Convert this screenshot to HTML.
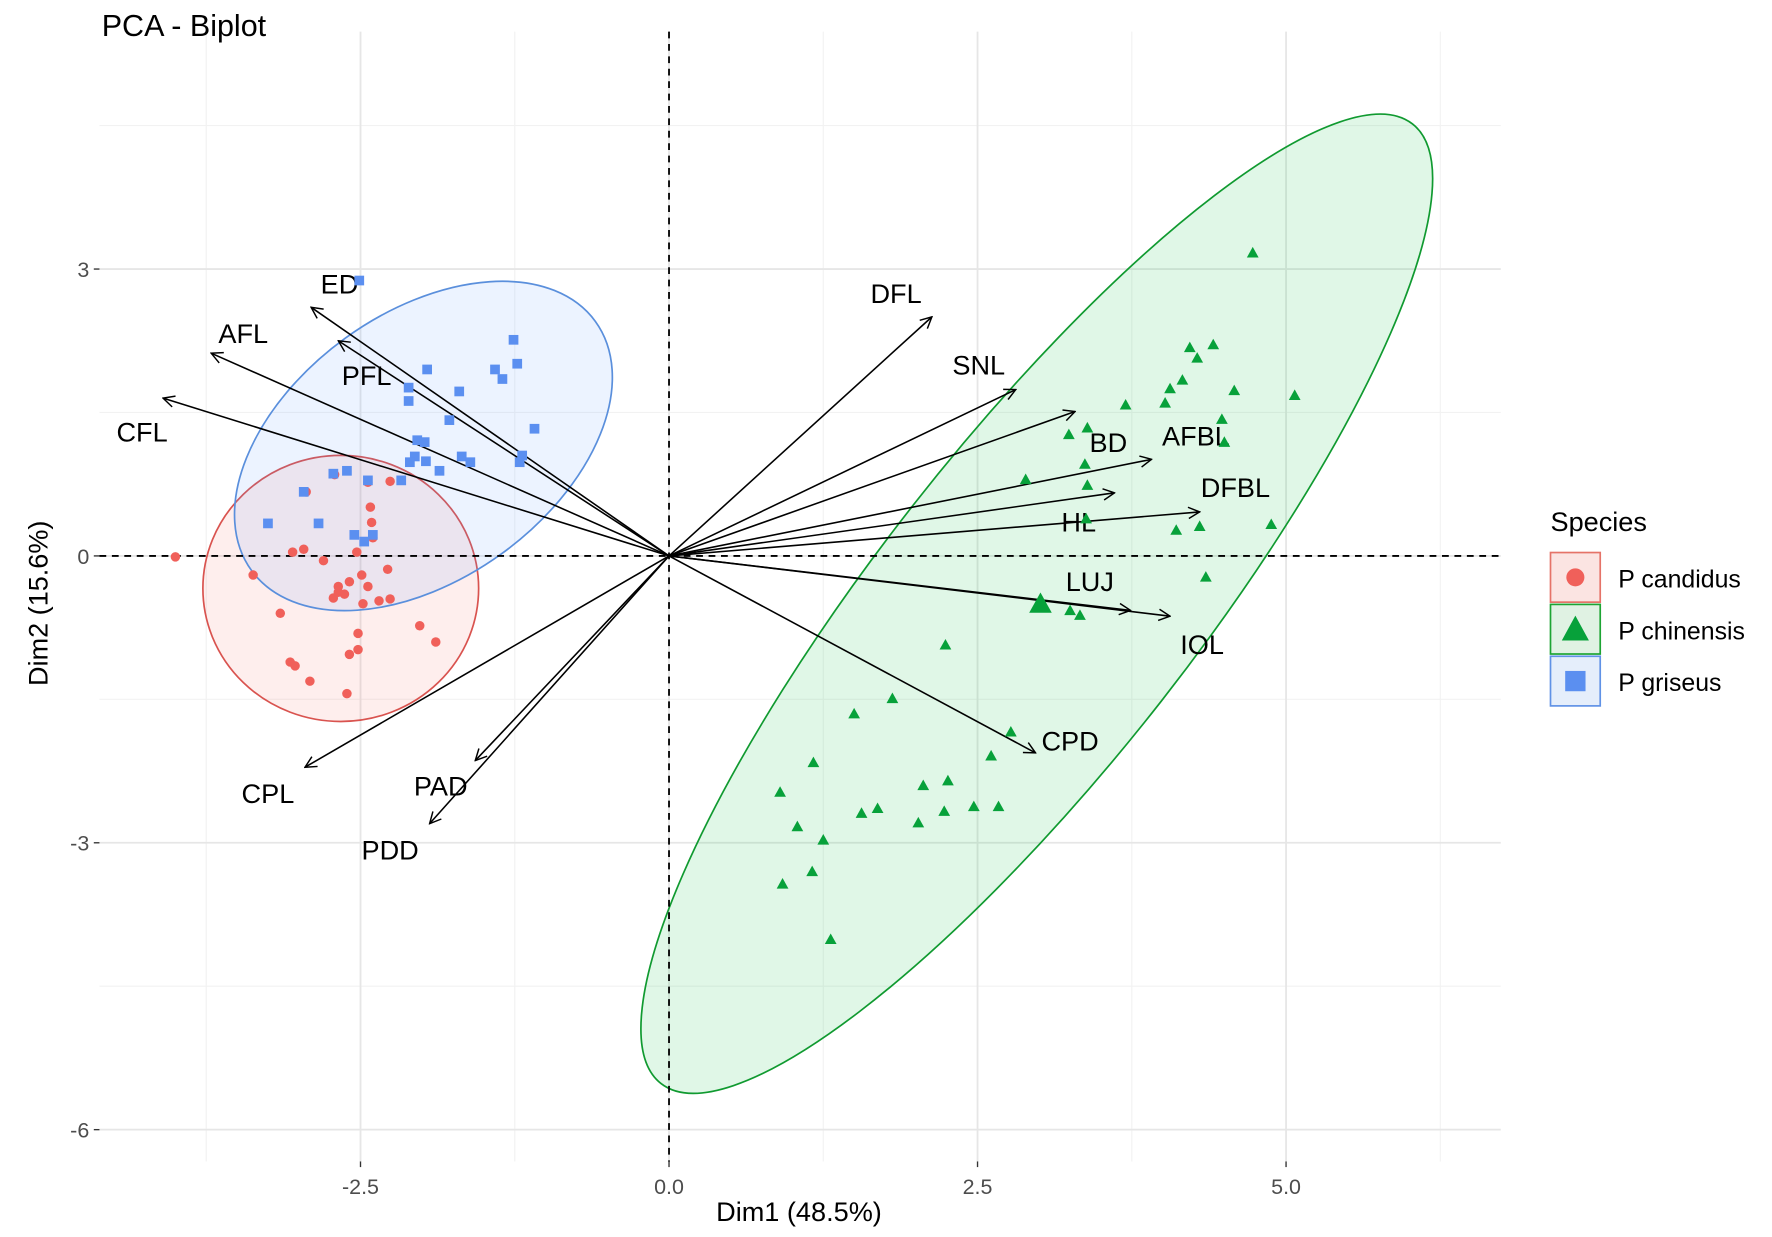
<!DOCTYPE html>
<html><head><meta charset="utf-8"><style>
html,body{margin:0;padding:0;background:#fff;}
svg{display:block;font-family:"Liberation Sans",sans-serif;}
</style></head><body>
<svg id="chart" width="1772" height="1237" viewBox="0 0 1568 1097" preserveAspectRatio="none" xmlns="http://www.w3.org/2000/svg">
<defs>
<marker id="ah" viewBox="0 0 12 12" refX="11" refY="6" markerWidth="12" markerHeight="12" markerUnits="userSpaceOnUse" orient="auto">
<path d="M1,1 L11,6 L1,11" fill="none" stroke="#000" stroke-width="1.3"/></marker>
</defs>
<g id="grid"></g>
<g id="ellipses"></g>
<g id="axes0"></g>
<g id="arrows"></g>
<g id="points"></g>
<g id="ticks"></g>
<text x="90" y="32" font-size="27">PCA - Biplot</text>
<text x="707" y="1083" font-size="24" text-anchor="middle">Dim1 (48.5%)</text>
<text transform="translate(42,535) rotate(-90)" font-size="24" text-anchor="middle">Dim2 (15.6%)</text>
<g>
<text x="1372" y="471" font-size="24">Species</text>
<g>
<rect x="1372" y="490" width="44" height="44" fill="#fbe4e2" stroke="#e57368" stroke-width="1.5"/>
<circle cx="1394" cy="512" r="8" fill="#f0605a"/>
<text x="1432" y="521" font-size="22">P candidus</text></g>
<g>
<rect x="1372" y="536" width="44" height="44" fill="#e0f2e3" stroke="#1da433" stroke-width="1.5"/>
<path d="M1394,546 L1406,568 L1382,568 Z" fill="#07a13a"/>
<text x="1432" y="567" font-size="22">P chinensis</text></g>
<g>
<rect x="1372" y="582" width="44" height="44" fill="#e5eefb" stroke="#6092e6" stroke-width="1.5"/>
<rect x="1385" y="595" width="18" height="18" fill="#5b8ff0"/>
<text x="1432" y="613" font-size="22">P griseus</text></g>
</g>
</svg>
<script>
const xTicks=[-2.5,0,2.5,5];
const yTicks=[-6,-3,0,3];
const xMinor=[-3.75,-1.25,1.25,3.75,6.25];
const yMinor=[-4.5,-1.5,1.5,4.5];
const candidusX=[-4.0,-3.37,-3.05,-2.96,-2.8,-2.94,-2.71,-2.44,-2.26,-2.42,-2.41,-2.4,-2.53,-2.28,-2.49,-2.68,-2.72,-2.63,-2.68,-2.59,-2.44,-2.35,-2.26,-3.15,-3.07,-3.03,-2.91,-2.61,-2.59,-2.52,-2.02,-1.89,-2.52,-2.48];
const candidusY=[-0.01,-0.2,0.04,0.07,-0.05,0.67,0.85,0.77,0.78,0.51,0.35,0.19,0.04,-0.14,-0.2,-0.32,-0.44,-0.4,-0.38,-0.27,-0.32,-0.47,-0.45,-0.6,-1.11,-1.15,-1.31,-1.44,-1.03,-0.98,-0.73,-0.9,-0.81,-0.5];
const griseusX=[-2.51,-1.96,-2.11,-2.11,-1.26,-1.23,-1.41,-1.35,-1.7,-1.78,-1.09,-1.21,-1.19,-2.04,-1.98,-2.06,-1.97,-1.86,-1.68,-1.61,-2.1,-2.17,-2.44,-2.61,-2.72,-2.96,-2.84,-3.25,-2.55,-2.4,-2.47];
const griseusY=[2.88,1.95,1.76,1.62,2.26,2.01,1.95,1.85,1.72,1.42,1.33,0.98,1.05,1.21,1.19,1.04,0.99,0.89,1.04,0.98,0.98,0.79,0.79,0.89,0.86,0.67,0.34,0.34,0.22,0.22,0.15];
const chinensisX=[4.73,4.22,4.41,4.28,4.16,4.06,4.02,4.58,5.07,3.7,3.24,3.39,4.48,4.5,3.37,3.39,2.89,4.11,4.3,4.88,4.35,3.01,3.25,2.24,1.81,1.5,1.17,2.77,2.61,2.26,2.06,0.9,1.04,1.56,1.69,1.25,2.02,2.23,2.47,2.67,1.16,0.92,1.31,3.33,3.38];
const chinensisY=[3.17,2.18,2.21,2.07,1.84,1.75,1.6,1.73,1.68,1.58,1.27,1.34,1.43,1.19,0.96,0.74,0.8,0.27,0.31,0.33,-0.22,-0.5,-0.57,-0.93,-1.49,-1.65,-2.16,-1.84,-2.09,-2.35,-2.4,-2.47,-2.83,-2.69,-2.64,-2.97,-2.79,-2.67,-2.62,-2.62,-3.3,-3.43,-4.01,-0.62,0.39];
const varNames=["ED","AFL","PFL","CFL","DFL","SNL","BD","AFBL","HL","DFBL","LUJ","IOL","CPD","CPL","PAD","PDD"];
const varX=[-2.9,-3.71,-2.68,-4.1,2.13,2.81,3.29,3.91,3.61,4.3,3.74,4.06,2.97,-2.95,-1.57,-1.94];
const varY=[2.6,2.12,2.25,1.65,2.5,1.74,1.51,1.01,0.66,0.46,-0.57,-0.63,-2.06,-2.21,-2.14,-2.8];
const labelDX=[0.23,0.26,0.23,-0.17,-0.29,-0.3,0.27,0.36,-0.29,0.29,-0.33,0.26,0.28,-0.3,-0.28,-0.32];
const labelDY=[0.24,0.2,-0.37,-0.36,0.24,0.25,-0.33,0.24,-0.31,0.25,0.3,-0.3,0.12,-0.28,-0.27,-0.28];

const NS="http://www.w3.org/2000/svg";
const L=88,R=1328,T=28,B=1030;
const sx=v=>592+v*109.2;
const sy=v=>493-v*84.8;
function mk(tag,parent,attrs){const e=document.createElementNS(NS,tag);for(const k in attrs)e.setAttribute(k,attrs[k]);parent.appendChild(e);return e;}
const grid=document.getElementById('grid');
xMinor.forEach(v=>{const e=mk('line',grid,{x1:sx(v),x2:sx(v),y1:T,y2:B,stroke:'#f2f2f2','stroke-width':1});

});
yMinor.forEach(v=>{const e=mk('line',grid,{x1:L,x2:R,y1:sy(v),y2:sy(v),stroke:'#f2f2f2','stroke-width':1});

});
xTicks.forEach(v=>{const e=mk('line',grid,{x1:sx(v),x2:sx(v),y1:T,y2:B,stroke:'#e6e6e6','stroke-width':1.6});

});
yTicks.forEach(v=>{const e=mk('line',grid,{x1:L,x2:R,y1:sy(v),y2:sy(v),stroke:'#e6e6e6','stroke-width':1.6});

});

const ell=document.getElementById('ellipses');
function ellipse(name,cx,cy,rx,ry,ang,fill,stroke){const e=mk('ellipse',ell,{cx:sx(cx),cy:sy(cy),rx:rx,ry:ry,transform:`rotate(${ang} ${sx(cx)} ${sy(cy)})`,fill:fill,'fill-opacity':0.12,stroke:stroke,'stroke-width':1.5});

}
ellipse('ellipse-p-candidus',-2.66,-0.34,122,118,0,'#f8766d','#d9534f');
ellipse('ellipse-p-chinensis',2.98,-0.5,540,140,-52,'#00ba38','#109a30');
ellipse('ellipse-p-griseus',-1.99,1.15,188,118,-36,'#619cff','#5a8fdc');

const a0=document.getElementById('axes0');
mk('line',a0,{x1:L,x2:R,y1:sy(0),y2:sy(0),stroke:'#000','stroke-width':1.6,'stroke-dasharray':'6,5'});
mk('line',a0,{x1:sx(0),x2:sx(0),y1:T,y2:B,stroke:'#000','stroke-width':1.6,'stroke-dasharray':'6,5'});

const pts=document.getElementById('points');
candidusX.forEach((v,i)=>{const c=mk('circle',pts,{cx:sx(v),cy:sy(candidusY[i]),r:4.2,fill:'#f0605a'});

});
griseusX.forEach((v,i)=>{const x=sx(v),y=sy(griseusY[i]);const c=mk('rect',pts,{x:x-4.3,y:y-4.3,width:8.6,height:8.6,fill:'#5b8ff0'});

});
chinensisX.forEach((v,i)=>{const x=sx(v),y=sy(chinensisY[i]);const s=i==21?10:5.2;const c=mk('path',pts,{d:`M${x},${y-s} L${x+s},${y+s*0.8} L${x-s},${y+s*0.8} Z`,fill:'#07a13a'});

});

const ar=document.getElementById('arrows');
varNames.forEach((n,i)=>{const l=mk('line',ar,{x1:sx(0),y1:sy(0),x2:sx(varX[i]),y2:sy(varY[i]),stroke:'#000','stroke-width':1.4,'marker-end':'url(#ah)'});


const t=mk('text',ar,{x:sx(varX[i]+labelDX[i]),y:sy(varY[i]+labelDY[i])+8,'font-size':24,'text-anchor':'middle'});t.textContent=n;

});

const tk=document.getElementById('ticks');
xTicks.forEach(v=>{mk('line',tk,{x1:sx(v),x2:sx(v),y1:B,y2:B+5,stroke:'#333','stroke-width':1.2});
const t=mk('text',tk,{x:sx(v),y:B+29,'font-size':19,fill:'#4d4d4d','text-anchor':'middle'});t.textContent=v.toFixed(1);

});
yTicks.forEach(v=>{mk('line',tk,{x1:L-5,x2:L,y1:sy(v),y2:sy(v),stroke:'#333','stroke-width':1.2});
const t=mk('text',tk,{x:L-9,y:sy(v)+7,'font-size':19,fill:'#4d4d4d','text-anchor':'end'});t.textContent=v;

});
</script>
</body></html>
